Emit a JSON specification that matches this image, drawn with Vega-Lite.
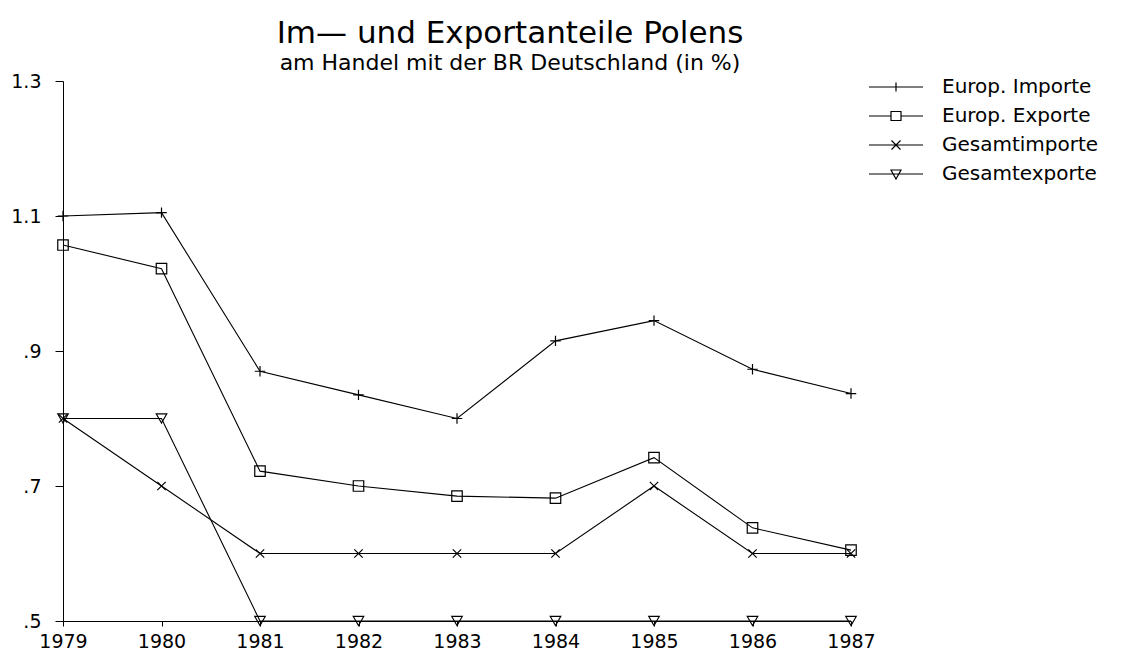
{
  "$schema": "https://vega.github.io/schema/vega-lite/v6.json",
  "width": 788,
  "height": 540,
  "autosize": {"type": "none"},
  "padding": {"left": 63, "top": 81, "right": 272, "bottom": 38},
  "background": "white",
  "config": {"view": {"stroke": null}},
  "title": {
    "text": "Im— und Exportanteile Polens",
    "subtitle": "am Handel mit der BR Deutschland (in %)",
    "anchor": "middle",
    "dx": 53,
    "offset": -3,
    "font": "DejaVu Sans",
    "fontSize": 31,
    "fontWeight": "normal",
    "color": "black",
    "subtitleFont": "DejaVu Sans",
    "subtitleFontSize": 22,
    "subtitleColor": "black",
    "subtitlePadding": 3
  },
  "data": {
    "values": [
      {"year": 1979, "series": "Europ. Importe", "value": 1.100},
      {"year": 1980, "series": "Europ. Importe", "value": 1.105},
      {"year": 1981, "series": "Europ. Importe", "value": 0.870},
      {"year": 1982, "series": "Europ. Importe", "value": 0.835},
      {"year": 1983, "series": "Europ. Importe", "value": 0.800},
      {"year": 1984, "series": "Europ. Importe", "value": 0.915},
      {"year": 1985, "series": "Europ. Importe", "value": 0.945},
      {"year": 1986, "series": "Europ. Importe", "value": 0.873},
      {"year": 1987, "series": "Europ. Importe", "value": 0.837},
      {"year": 1979, "series": "Europ. Exporte", "value": 1.057},
      {"year": 1980, "series": "Europ. Exporte", "value": 1.022},
      {"year": 1981, "series": "Europ. Exporte", "value": 0.722},
      {"year": 1982, "series": "Europ. Exporte", "value": 0.700},
      {"year": 1983, "series": "Europ. Exporte", "value": 0.685},
      {"year": 1984, "series": "Europ. Exporte", "value": 0.682},
      {"year": 1985, "series": "Europ. Exporte", "value": 0.742},
      {"year": 1986, "series": "Europ. Exporte", "value": 0.638},
      {"year": 1987, "series": "Europ. Exporte", "value": 0.605},
      {"year": 1979, "series": "Gesamtimporte", "value": 0.8},
      {"year": 1980, "series": "Gesamtimporte", "value": 0.7},
      {"year": 1981, "series": "Gesamtimporte", "value": 0.6},
      {"year": 1982, "series": "Gesamtimporte", "value": 0.6},
      {"year": 1983, "series": "Gesamtimporte", "value": 0.6},
      {"year": 1984, "series": "Gesamtimporte", "value": 0.6},
      {"year": 1985, "series": "Gesamtimporte", "value": 0.7},
      {"year": 1986, "series": "Gesamtimporte", "value": 0.6},
      {"year": 1987, "series": "Gesamtimporte", "value": 0.6},
      {"year": 1979, "series": "Gesamtexporte", "value": 0.8},
      {"year": 1980, "series": "Gesamtexporte", "value": 0.8},
      {"year": 1981, "series": "Gesamtexporte", "value": 0.5},
      {"year": 1982, "series": "Gesamtexporte", "value": 0.5},
      {"year": 1983, "series": "Gesamtexporte", "value": 0.5},
      {"year": 1984, "series": "Gesamtexporte", "value": 0.5},
      {"year": 1985, "series": "Gesamtexporte", "value": 0.5},
      {"year": 1986, "series": "Gesamtexporte", "value": 0.5},
      {"year": 1987, "series": "Gesamtexporte", "value": 0.5}
    ]
  },
  "encoding": {
    "x": {
      "field": "year",
      "type": "quantitative",
      "scale": {"domain": [1979, 1987], "nice": false, "zero": false},
      "axis": {
        "title": null,
        "values": [1979, 1980, 1981, 1982, 1983, 1984, 1985, 1986, 1987],
        "format": "d",
        "grid": false,
        "domainColor": "black",
        "tickColor": "black",
        "tickSize": 5,
        "labelFont": "DejaVu Sans",
        "labelFontSize": 19,
        "labelColor": "black",
        "labelPadding": 6,
        "labelFlush": false
      }
    },
    "y": {
      "field": "value",
      "type": "quantitative",
      "scale": {"domain": [0.5, 1.3], "nice": false, "zero": false},
      "axis": {
        "title": null,
        "values": [0.5, 0.7, 0.9, 1.1, 1.3],
        "labelExpr": "datum.value < 1 ? slice(format(datum.value, '.1f'), 1) : format(datum.value, '.1f')",
        "grid": false,
        "domainColor": "black",
        "tickColor": "black",
        "tickSize": 8,
        "labelFont": "DejaVu Sans",
        "labelFontSize": 19,
        "labelColor": "black",
        "labelPadding": 14,
        "labelFlush": false
      }
    }
  },
  "layer": [
    {
      "mark": {"type": "line", "color": "black", "strokeWidth": 1.1},
      "encoding": {"detail": {"field": "series", "type": "nominal"}}
    },
    {
      "mark": {"type": "point", "size": 110, "color": "black", "filled": false, "strokeWidth": 1.2, "opacity": 1},
      "encoding": {
        "shape": {
          "field": "series",
          "type": "nominal",
          "scale": {
            "domain": ["Europ. Importe", "Europ. Exporte", "Gesamtimporte", "Gesamtexporte"],
            "range": ["M-1,0H1M0,-1V1", "square", "M-0.8,-0.8L0.8,0.8M-0.8,0.8L0.8,-0.8", "triangle-down"]
          },
          "legend": null
        }
      }
    },
    {
      "mark": {"type": "point", "size": 400, "color": "black", "filled": false, "strokeWidth": 1.2, "opacity": 0},
      "encoding": {
        "shape": {
          "field": "series",
          "type": "nominal",
          "scale": {
            "domain": ["Europ. Importe", "Europ. Exporte", "Gesamtimporte", "Gesamtexporte"],
            "range": [
              "M-2.7,0H2.7M0,-0.45V0.45",
              "M-2.7,0H-0.5M0.5,0H2.7M-0.5,-0.45H0.5V0.45H-0.5Z",
              "M-2.7,0H2.7M-0.45,-0.45L0.45,0.45M-0.45,0.45L0.45,-0.45",
              "M-2.7,0H2.7M-0.5,-0.4H0.5L0,0.5Z"
            ]
          },
          "legend": {
            "title": null,
            "orient": "none",
            "legendX": 822,
            "legendY": -5,
            "padding": 0,
            "symbolSize": 400,
            "symbolOpacity": 1,
            "symbolStrokeColor": "black",
            "symbolStrokeWidth": 1.2,
            "symbolFillColor": "transparent",
            "labelFont": "DejaVu Sans",
            "labelFontSize": 20,
            "labelColor": "black",
            "labelOffset": 35,
            "rowPadding": 8
          }
        }
      }
    }
  ],
  "resolve": {"scale": {"shape": "independent"}, "legend": {"shape": "independent"}}
}
